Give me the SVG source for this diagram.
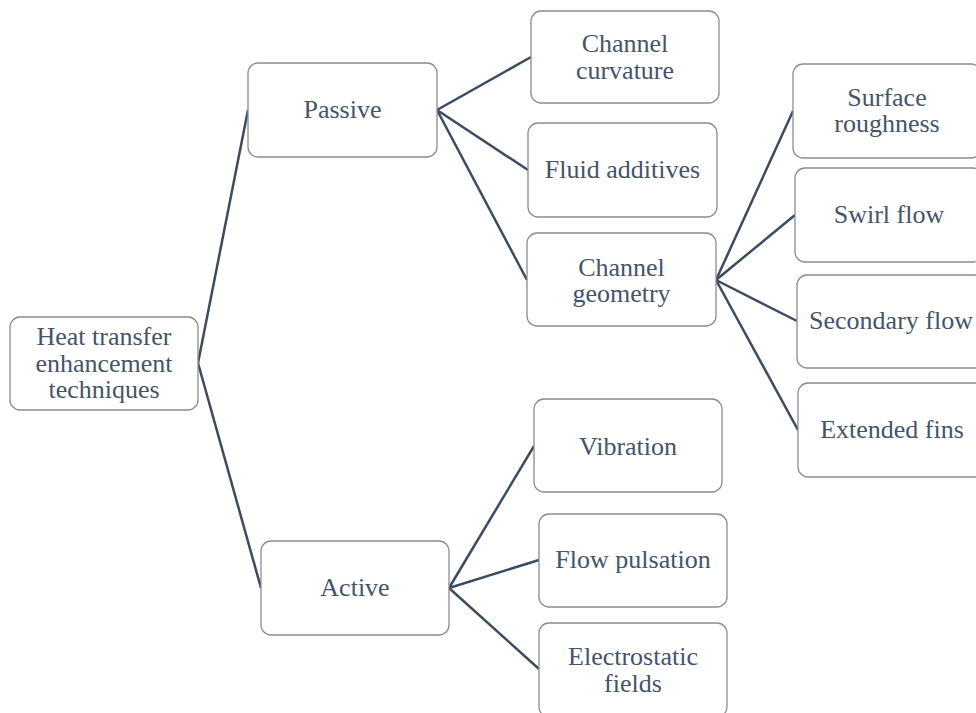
<svg xmlns="http://www.w3.org/2000/svg" width="976" height="713" viewBox="0 0 976 713">
<style>
.box{fill:#fff;stroke:#8c8c8c;stroke-width:1.3}
.t{font-family:'Liberation Serif','Times New Roman',serif;font-size:26px;fill:#44546a;text-anchor:middle}
.c{stroke:#3b4b60;stroke-width:2.5;fill:none}
</style>
<rect width="976" height="713" fill="#fff"/>
<g id="connectors">
<line class="c" x1="198" y1="363" x2="248" y2="110"/>
<line class="c" x1="198" y1="363" x2="261" y2="588"/>
<line class="c" x1="437" y1="110" x2="531" y2="57"/>
<line class="c" x1="437" y1="110" x2="528" y2="170"/>
<line class="c" x1="437" y1="110" x2="527" y2="280"/>
<line class="c" x1="716" y1="280" x2="793" y2="111"/>
<line class="c" x1="716" y1="280" x2="795" y2="215"/>
<line class="c" x1="716" y1="280" x2="797" y2="321"/>
<line class="c" x1="716" y1="280" x2="798" y2="430"/>
<line class="c" x1="449" y1="588" x2="534" y2="446"/>
<line class="c" x1="449" y1="588" x2="539" y2="560"/>
<line class="c" x1="449" y1="588" x2="539" y2="669"/>
</g>
<g id="root"><rect class="box" x="10" y="317" width="188" height="93" rx="10"/>
<text class="t" x="104" y="345">Heat transfer</text><text class="t" x="104" y="372">enhancement</text><text class="t" x="104" y="398">techniques</text></g>
<g id="passive"><rect class="box" x="248" y="63" width="189" height="94" rx="10"/><text class="t" x="342.5" y="118">Passive</text></g>
<g id="active"><rect class="box" x="261" y="541" width="188" height="94" rx="10"/><text class="t" x="355" y="596">Active</text></g>
<g id="channel-curvature"><rect class="box" x="531" y="11" width="188" height="92" rx="10"/>
<text class="t" x="625" y="52">Channel</text><text class="t" x="625" y="79">curvature</text></g>
<g id="fluid-additives"><rect class="box" x="528" y="123" width="189" height="94" rx="10"/><text class="t" x="622.5" y="178">Fluid additives</text></g>
<g id="channel-geometry"><rect class="box" x="527" y="233" width="189" height="93" rx="10"/>
<text class="t" x="621.5" y="276">Channel</text><text class="t" x="621.5" y="302">geometry</text></g>
<g id="surface-roughness"><rect class="box" x="793" y="64" width="188" height="94" rx="10"/>
<text class="t" x="887" y="106">Surface</text><text class="t" x="887" y="132">roughness</text></g>
<g id="swirl-flow"><rect class="box" x="795" y="168" width="188" height="94" rx="10"/><text class="t" x="889" y="223">Swirl flow</text></g>
<g id="secondary-flow"><rect class="box" x="797" y="275" width="188" height="93" rx="10"/><text class="t" x="891" y="329">Secondary flow</text></g>
<g id="extended-fins"><rect class="box" x="798" y="383" width="188" height="94" rx="10"/><text class="t" x="892" y="438">Extended fins</text></g>
<g id="vibration"><rect class="box" x="534" y="399" width="188" height="93" rx="10"/><text class="t" x="628" y="455">Vibration</text></g>
<g id="flow-pulsation"><rect class="box" x="539" y="514" width="188" height="93" rx="10"/><text class="t" x="633" y="568">Flow pulsation</text></g>
<g id="electrostatic-fields"><rect class="box" x="539" y="623" width="188" height="94" rx="10"/>
<text class="t" x="633" y="665">Electrostatic</text><text class="t" x="633" y="692">fields</text></g>
</svg>
